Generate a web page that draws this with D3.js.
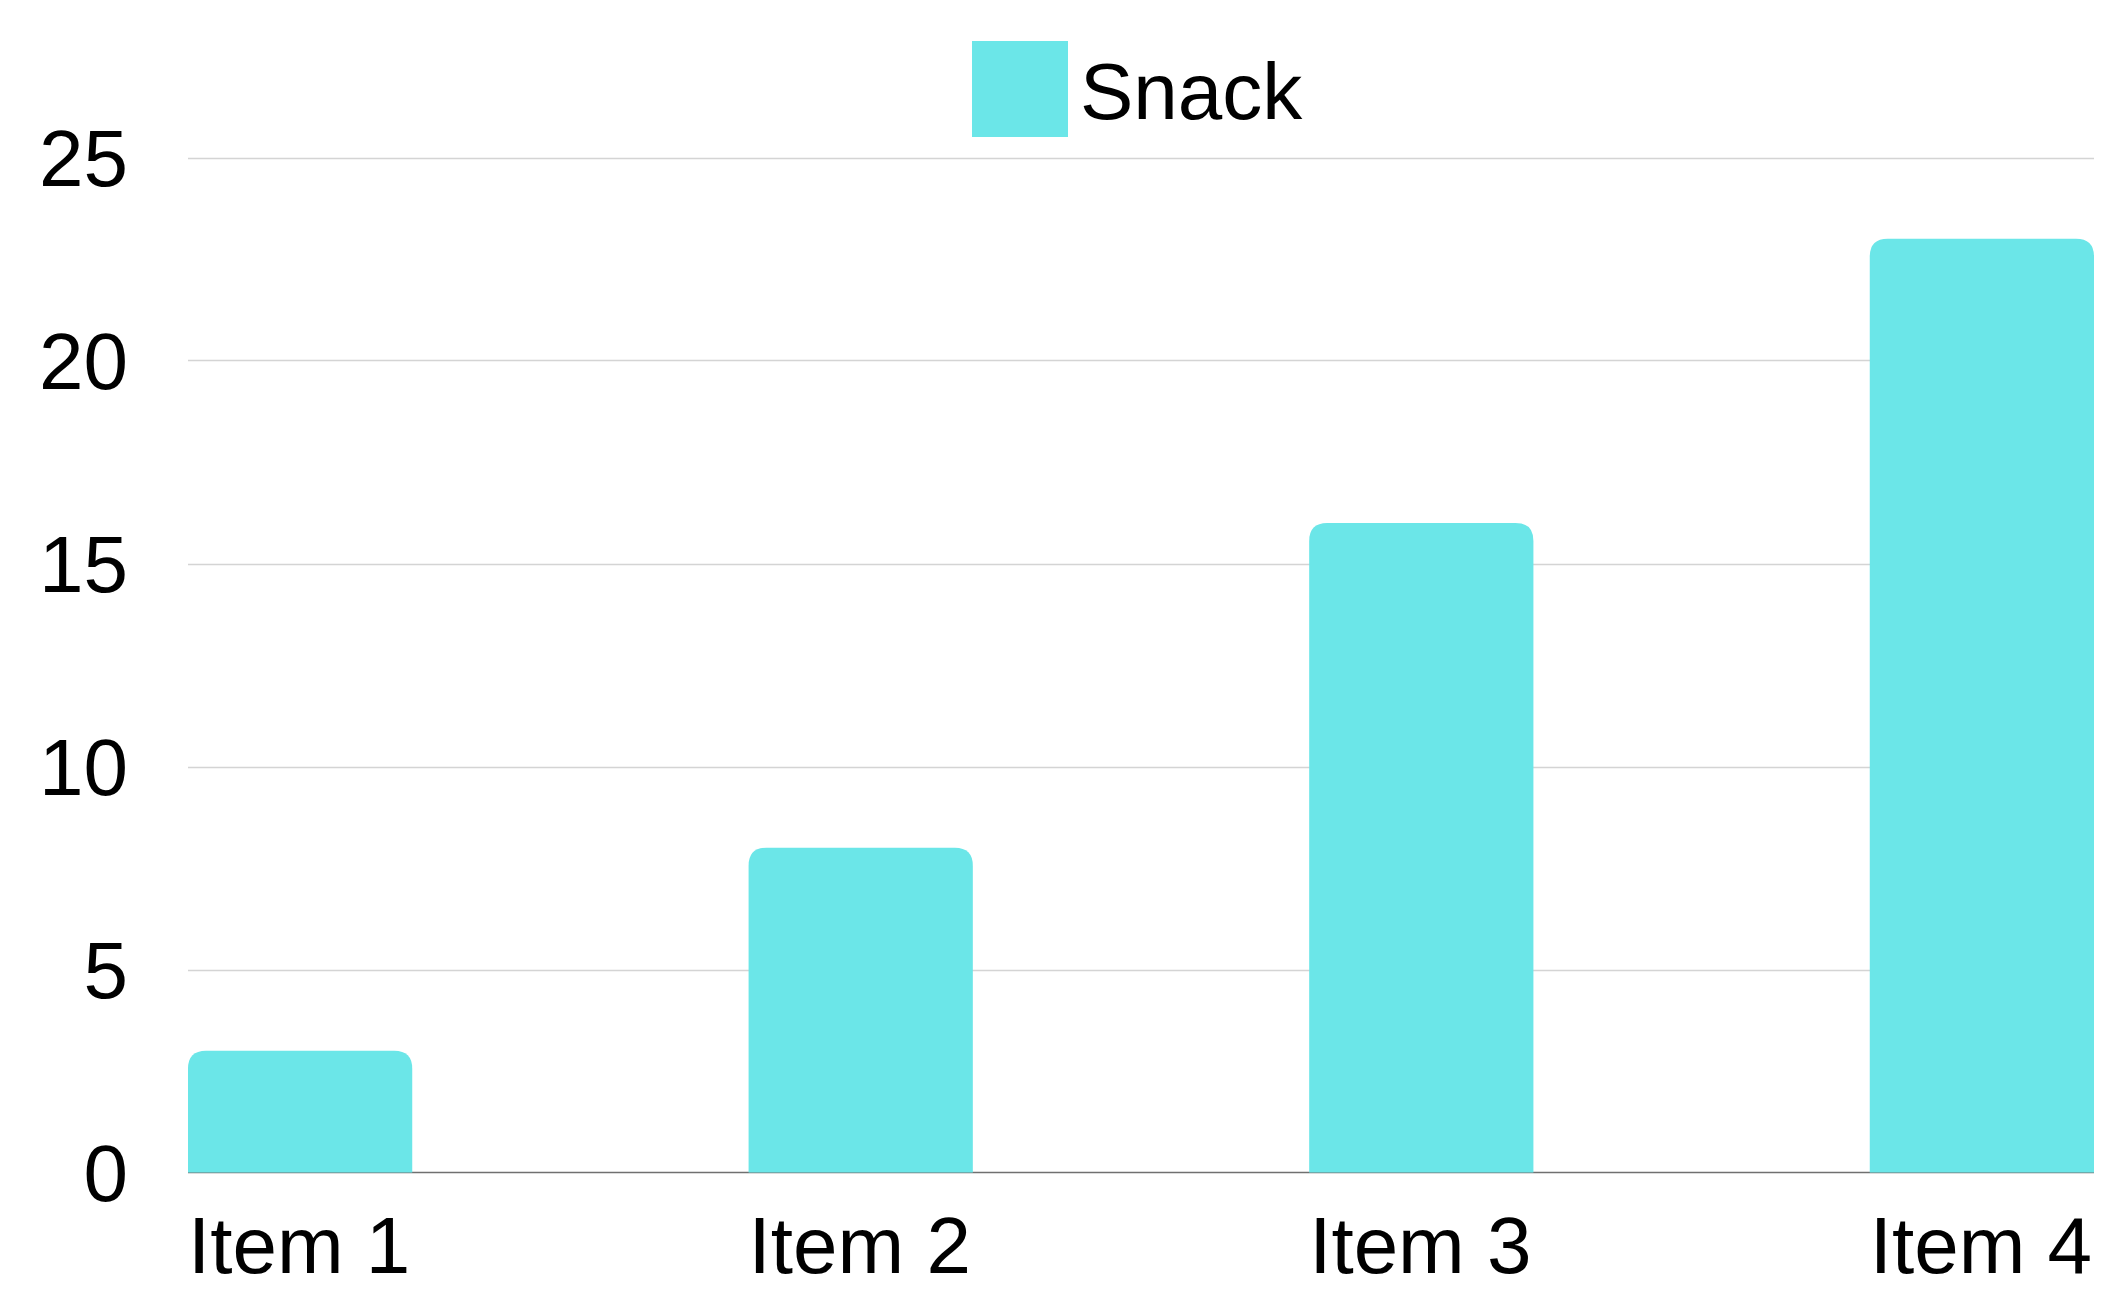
<!DOCTYPE html>
<html>
<head>
<meta charset="utf-8">
<script src="https://cdnjs.cloudflare.com/ajax/libs/d3/7.8.5/d3.min.js"></script>
<style>
  html, body { margin: 0; padding: 0; background: #fff; }
  svg text { font-family: "Liberation Sans", Arial, sans-serif; fill: #000; }
</style>
</head>
<body>
<div id="chart"></div>
<script>
let categories = ['Item 1', 'Item 2', 'Item 3', 'Item 4'];
let snackValues = [3, 8, 16, 23];
let yTicks = [0, 5, 10, 15, 20, 25];
let seriesName = 'Snack';

let width = 2110;
let height = 1301;
let margin = { top: 158, right: 16, bottom: 128, left: 188 };
let barColor = '#6be6e8';

let svg = d3.select('#chart').append('svg')
  .attr('width', width)
  .attr('height', height);

let x = d3.scaleBand()
  .domain(categories)
  .range([margin.left, width - margin.right])
  .paddingInner(0.6)
  .paddingOuter(0);

let y = d3.scaleLinear()
  .domain([0, 25])
  .range([height - margin.bottom - 0.5, margin.top - 0.5]);

// gridlines
svg.append('g')
  .selectAll('line')
  .data(yTicks.filter(t => t > 0))
  .enter()
  .append('line')
  .attr('x1', margin.left)
  .attr('x2', width - margin.right)
  .attr('y1', d => Math.round(y(d)) + 0.5)
  .attr('y2', d => Math.round(y(d)) + 0.5)
  .style('stroke', '#d4d4d4')
  .style('stroke-width', 1.3);

// y tick labels
svg.append('g')
  .selectAll('text')
  .data(yTicks)
  .enter()
  .append('text')
  .attr('x', 128)
  .attr('y', d => y(d))
  .attr('dy', '0.355em')
  .attr('text-anchor', 'end')
  .style('font-size', '80px')
  .text(d => d);

// baseline
svg.append('line')
  .attr('x1', margin.left)
  .attr('x2', width - margin.right)
  .attr('y1', y(0))
  .attr('y2', y(0))
  .style('stroke', '#707070')
  .style('stroke-width', 1.5);

// bars with rounded top corners
let r = 18;
function barPath(d, i) {
  let x0 = x(categories[i]);
  let x1 = x0 + x.bandwidth();
  let y0 = y(0);
  let y1 = y(d);
  return `M${x0},${y0} V${y1 + r} Q${x0},${y1} ${x0 + r},${y1} H${x1 - r} Q${x1},${y1} ${x1},${y1 + r} V${y0} Z`;
}

svg.append('g')
  .selectAll('path')
  .data(snackValues)
  .enter()
  .append('path')
  .attr('d', barPath)
  .style('fill', barColor);

// x labels, left aligned with bars
svg.append('g')
  .selectAll('text')
  .data(categories)
  .enter()
  .append('text')
  .attr('x', d => x(d))
  .attr('y', 1273)
  .style('font-size', '80px')
  .text(d => d);

// legend
let legend = svg.append('g');
legend.append('rect')
  .attr('x', 972)
  .attr('y', 41)
  .attr('width', 96)
  .attr('height', 96)
  .style('fill', barColor);
legend.append('text')
  .attr('x', 1080)
  .attr('y', 119)
  .style('font-size', '80px')
  .text(seriesName);
</script>
</body>
</html>
